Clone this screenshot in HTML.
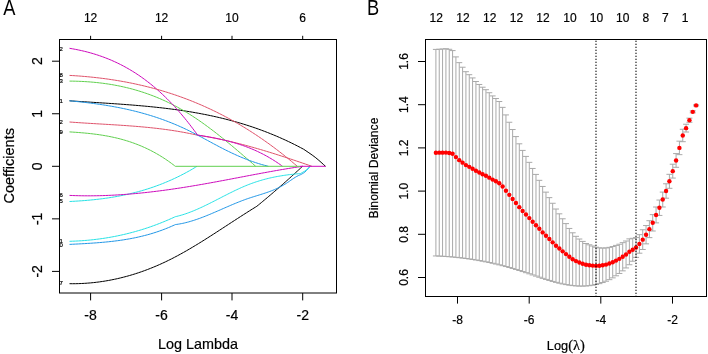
<!DOCTYPE html><html><head><meta charset="utf-8"><style>html,body{margin:0;padding:0;background:#fff;width:708px;height:354px;overflow:hidden}svg{display:block;will-change:transform}text{font-family:"Liberation Sans",sans-serif;fill:#000;stroke:#000;stroke-width:0.2px}</style></head><body>
<svg width="708" height="354" viewBox="0 0 708 354">
<rect width="708" height="354" fill="#fff"/>
<defs><clipPath id="ca"><rect x="59.5" y="39.5" width="277" height="253"/></clipPath><clipPath id="cb"><rect x="425.5" y="39.5" width="281" height="257"/></clipPath></defs>
<g clip-path="url(#ca)" fill="none" stroke-width="1" stroke-linejoin="round">
<path d="M69.5 100.8 L71 100.9 L72.5 101.01 L74 101.11 L75.5 101.21 L77 101.31 L78.5 101.41 L80 101.51 L81.5 101.61 L83 101.7 L84.5 101.8 L86 101.9 L87.5 101.99 L89 102.09 L90.5 102.18 L92 102.28 L93.5 102.37 L95 102.47 L96.5 102.56 L98 102.66 L99.5 102.76 L101 102.85 L102.5 102.95 L104 103.05 L105.5 103.14 L107 103.24 L108.5 103.34 L110 103.44 L111.5 103.54 L113 103.64 L114.5 103.74 L116 103.85 L117.5 103.95 L119 104.06 L120.5 104.16 L122 104.27 L123.5 104.38 L125 104.49 L126.5 104.61 L128 104.72 L129.5 104.84 L131 104.95 L132.5 105.07 L134 105.2 L135.5 105.32 L137 105.44 L138.5 105.57 L140 105.7 L141.5 105.83 L143 105.97 L144.5 106.1 L146 106.24 L147.5 106.39 L149 106.53 L150.5 106.68 L152 106.83 L153.5 106.98 L155 107.14 L156.5 107.3 L158 107.46 L159.5 107.62 L161 107.79 L162.5 107.96 L164 108.14 L165.5 108.32 L167 108.5 L168.5 108.68 L170 108.87 L171.5 109.07 L173 109.26 L174.5 109.46 L176 109.67 L177.5 109.88 L179 110.09 L180.5 110.31 L182 110.53 L183.5 110.75 L185 110.98 L186.5 111.22 L188 111.45 L189.5 111.7 L191 111.95 L192.5 112.2 L194 112.46 L195.5 112.72 L197 112.99 L198.5 113.26 L200 113.54 L201.5 113.82 L203 114.11 L204.5 114.4 L206 114.7 L207.5 115 L209 115.31 L210.5 115.63 L212 115.95 L213.5 116.28 L215 116.61 L216.5 116.95 L218 117.29 L219.5 117.64 L221 118 L222.5 118.36 L224 118.73 L225.5 119.11 L227 119.49 L228.5 119.88 L230 120.27 L231.5 120.67 L233 121.08 L234.5 121.5 L236 121.92 L237.5 122.35 L239 122.78 L240.5 123.23 L242 123.68 L243.5 124.13 L245 124.6 L246.5 125.07 L248 125.55 L249.5 126.04 L251 126.53 L252.5 127.03 L254 127.54 L255.5 128.06 L257 128.59 L258.5 129.12 L260 129.66 L261.5 130.21 L263 130.77 L264.5 131.34 L266 131.91 L267.5 132.49 L269 133.09 L270.5 133.69 L272 134.29 L273.5 134.91 L275 135.54 L276.5 136.17 L278 136.81 L279.5 137.47 L281 138.13 L282.5 138.8 L284 139.48 L285.5 140.17 L287 140.87 L288.5 141.57 L290 142.29 L291.5 143.02 L293 143.75 L294.5 144.5 L296 145.26 L297.5 146.02 L299 146.8 L300.5 147.58 L302 148.38 L303.5 149.18 L303.9 149.4 M303.9 149.4 C305.78 150.72 311.6 154.48 315.2 157.3 C318.8 160.12 323.78 164.8 325.5 166.3" stroke="#000000"/>
<path d="M69.5 122 L71 122.11 L72.5 122.22 L74 122.33 L75.5 122.44 L77 122.54 L78.5 122.64 L80 122.75 L81.5 122.84 L83 122.94 L84.5 123.04 L86 123.13 L87.5 123.23 L89 123.32 L90.5 123.41 L92 123.5 L93.5 123.59 L95 123.68 L96.5 123.77 L98 123.86 L99.5 123.95 L101 124.03 L102.5 124.12 L104 124.21 L105.5 124.3 L107 124.39 L108.5 124.48 L110 124.57 L111.5 124.66 L113 124.75 L114.5 124.84 L116 124.94 L117.5 125.03 L119 125.13 L120.5 125.23 L122 125.33 L123.5 125.43 L125 125.53 L126.5 125.64 L128 125.75 L129.5 125.86 L131 125.97 L132.5 126.08 L134 126.2 L135.5 126.32 L137 126.44 L138.5 126.57 L140 126.7 L141.5 126.83 L143 126.96 L144.5 127.1 L146 127.25 L147.5 127.39 L149 127.54 L150.5 127.7 L152 127.85 L153.5 128.02 L155 128.18 L156.5 128.35 L158 128.53 L159.5 128.71 L161 128.89 L162.5 129.08 L164 129.28 L165.5 129.48 L167 129.68 L168.5 129.89 L170 130.11 L171.5 130.33 L173 130.56 L174.5 130.79 L176 131.03 L177.5 131.28 L179 131.53 L180.5 131.79 L182 132.05 L183.5 132.32 L185 132.6 L186.5 132.89 L188 133.18 L189.5 133.48 L191 133.79 L192.5 134.1 L194 134.42 L195.5 134.75 L197 135.09 L197.5 135.2 M197.5 135.2 L199 135.42 L200.5 135.65 L202 135.88 L203.5 136.13 L205 136.38 L206.5 136.63 L208 136.89 L209.5 137.16 L211 137.44 L212.5 137.72 L214 138.01 L215.5 138.3 L217 138.6 L218.5 138.9 L220 139.21 L221.5 139.53 L223 139.85 L224.5 140.18 L226 140.52 L227.5 140.86 L229 141.2 L230.5 141.55 L232 141.91 L233.5 142.27 L235 142.63 L236.5 143 L238 143.38 L239.5 143.76 L241 144.14 L242.5 144.53 L244 144.92 L245.5 145.32 L247 145.73 L248.5 146.13 L250 146.55 L251.5 146.96 L253 147.38 L254.5 147.81 L256 148.23 L257.5 148.67 L259 149.1 L260.5 149.54 L262 149.98 L263.5 150.43 L265 150.88 L266.5 151.34 L268 151.79 L269.5 152.25 L271 152.72 L272.5 153.18 L274 153.65 L275.5 154.13 L277 154.6 L278.5 155.08 L280 155.56 L281.5 156.05 L283 156.53 L284.5 157.02 L286 157.51 L287.5 158.01 L289 158.5 L290.5 159 L292 159.5 L293.5 160 L295 160.51 L296.5 161.01 L298 161.52 L299.5 162.03 L301 162.54 L302.5 163.05 L304 163.57 L305.5 164.08 L307 164.6 L308.5 165.12 L310 165.64 L311.5 166.16 L311.9 166.3" stroke="#DF536B"/>
<path d="M69.5 81.1 L71 81.11 L72.5 81.14 L74 81.16 L75.5 81.2 L77 81.24 L78.5 81.29 L80 81.35 L81.5 81.42 L83 81.49 L84.5 81.57 L86 81.66 L87.5 81.76 L89 81.87 L90.5 81.98 L92 82.11 L93.5 82.24 L95 82.38 L96.5 82.53 L98 82.69 L99.5 82.86 L101 83.04 L102.5 83.23 L104 83.42 L105.5 83.63 L107 83.85 L108.5 84.07 L110 84.31 L111.5 84.56 L113 84.81 L114.5 85.08 L116 85.36 L117.5 85.65 L119 85.95 L120.5 86.26 L122 86.58 L123.5 86.91 L125 87.25 L126.5 87.61 L128 87.97 L129.5 88.35 L131 88.74 L132.5 89.14 L134 89.55 L135.5 89.98 L137 90.41 L138.5 90.86 L140 91.32 L141.5 91.8 L143 92.28 L144.5 92.78 L146 93.3 L147.5 93.82 L149 94.36 L150.5 94.91 L152 95.47 L153.5 96.05 L155 96.64 L156.5 97.25 L158 97.86 L159.5 98.5 L161 99.14 L162.5 99.8 L164 100.48 L165.5 101.17 L167 101.87 L168.5 102.59 L170 103.32 L171.5 104.07 L173 104.83 L174.5 105.6 L176 106.4 L177.5 107.2 L179 108.02 L180.5 108.86 L182 109.72 L183.5 110.59 L185 111.47 L186.5 112.37 L188 113.29 L189.5 114.22 L191 115.17 L192.5 116.13 L194 117.11 L195.5 118.11 L197 119.11 L198.5 120.14 L200 121.17 L201.5 122.22 L203 123.28 L204.5 124.36 L206 125.45 L207.5 126.54 L209 127.66 L210.5 128.78 L212 129.91 L213.5 131.06 L215 132.21 L216.5 133.38 L218 134.55 L219.5 135.74 L221 136.93 L222.5 138.13 L224 139.34 L225.5 140.56 L227 141.79 L228.5 143.02 L230 144.26 L231.5 145.51 L233 146.76 L234.5 148.02 L236 149.29 L237.5 150.56 L239 151.84 L240.5 153.12 L242 154.41 L243.5 155.7 L245 156.99 L246.5 158.29 L248 159.59 L249.5 160.9 L251 162.2 L252.5 163.51 L254 164.82 L255.5 166.14 L255.7 166.3" stroke="#61D04F"/>
<path d="M69.5 100.8 L71 100.94 L72.5 101.09 L74 101.24 L75.5 101.39 L77 101.55 L78.5 101.71 L80 101.87 L81.5 102.04 L83 102.2 L84.5 102.38 L86 102.55 L87.5 102.73 L89 102.92 L90.5 103.11 L92 103.3 L93.5 103.5 L95 103.7 L96.5 103.91 L98 104.12 L99.5 104.34 L101 104.56 L102.5 104.78 L104 105.02 L105.5 105.25 L107 105.5 L108.5 105.75 L110 106 L111.5 106.26 L113 106.53 L114.5 106.8 L116 107.08 L117.5 107.36 L119 107.65 L120.5 107.95 L122 108.26 L123.5 108.57 L125 108.89 L126.5 109.22 L128 109.55 L129.5 109.89 L131 110.24 L132.5 110.59 L134 110.96 L135.5 111.33 L137 111.71 L138.5 112.1 L140 112.49 L141.5 112.9 L143 113.31 L144.5 113.73 L146 114.16 L147.5 114.6 L149 115.05 L150.5 115.5 L152 115.97 L153.5 116.45 L155 116.93 L156.5 117.43 L158 117.93 L159.5 118.45 L161 118.97 L162.5 119.5 L164 120.05 L165.5 120.6 L167 121.17 L168.5 121.74 L170 122.33 L171.5 122.93 L173 123.54 L174.5 124.16 L176 124.79 L177.5 125.43 L179 126.08 L180.5 126.75 L182 127.42 L183.5 128.11 L185 128.81 L186.5 129.53 L188 130.25 L189.5 130.99 L191 131.74 L192.5 132.49 L194 133.26 L195.5 134.04 L197 134.82 L198.5 135.61 L200 136.41 L201.5 137.21 L203 138.01 L204.5 138.82 L206 139.63 L207.5 140.44 L209 141.25 L210.5 142.06 L212 142.87 L213.5 143.68 L215 144.48 L216.5 145.28 L218 146.08 L219.5 146.87 L221 147.65 L222.5 148.42 L224 149.19 L225.5 149.95 L227 150.69 L228.5 151.43 L230 152.15 L231.5 152.87 L233 153.57 L234.5 154.26 L236 154.94 L237.5 155.61 L239 156.27 L240.5 156.91 L242 157.54 L243.5 158.16 L245 158.76 L246.5 159.35 L248 159.93 L249.5 160.49 L251 161.04 L252.5 161.57 L254 162.09 L255.5 162.6 L257 163.09 L258.5 163.56 L260 164.02 L261.5 164.47 L263 164.89 L264.5 165.31 L266 165.7 L267.5 166.08 L268.4 166.3" stroke="#2297E6"/>
<path d="M69.5 201.5 L71 201.43 L72.5 201.35 L74 201.27 L75.5 201.18 L77 201.09 L78.5 200.99 L80 200.89 L81.5 200.79 L83 200.68 L84.5 200.56 L86 200.44 L87.5 200.31 L89 200.18 L90.5 200.04 L92 199.89 L93.5 199.74 L95 199.58 L96.5 199.41 L98 199.24 L99.5 199.06 L101 198.88 L102.5 198.69 L104 198.49 L105.5 198.28 L107 198.07 L108.5 197.84 L110 197.61 L111.5 197.38 L113 197.13 L114.5 196.88 L116 196.62 L117.5 196.34 L119 196.07 L120.5 195.78 L122 195.48 L123.5 195.18 L125 194.86 L126.5 194.54 L128 194.2 L129.5 193.86 L131 193.51 L132.5 193.14 L134 192.77 L135.5 192.39 L137 192 L138.5 191.59 L140 191.18 L141.5 190.76 L143 190.32 L144.5 189.87 L146 189.42 L147.5 188.95 L149 188.47 L150.5 187.98 L152 187.47 L153.5 186.96 L155 186.43 L156.5 185.89 L158 185.34 L159.5 184.78 L161 184.21 L162.5 183.62 L164 183.02 L165.5 182.4 L167 181.78 L168.5 181.14 L170 180.48 L171.5 179.82 L173 179.14 L174.5 178.44 L176 177.74 L177.5 177.01 L179 176.28 L180.5 175.53 L182 174.76 L183.5 173.99 L185 173.19 L186.5 172.38 L188 171.56 L189.5 170.72 L191 169.87 L192.5 169 L194 168.12 L195.5 167.22 L197 166.3" stroke="#28E2E5"/>
<path d="M69.5 48.3 L71 48.55 L72.5 48.81 L74 49.08 L75.5 49.37 L77 49.66 L78.5 49.97 L80 50.29 L81.5 50.62 L83 50.97 L84.5 51.32 L86 51.7 L87.5 52.08 L89 52.48 L90.5 52.89 L92 53.32 L93.5 53.76 L95 54.22 L96.5 54.69 L98 55.18 L99.5 55.69 L101 56.21 L102.5 56.74 L104 57.29 L105.5 57.86 L107 58.45 L108.5 59.05 L110 59.67 L111.5 60.31 L113 60.97 L114.5 61.64 L116 62.33 L117.5 63.04 L119 63.77 L120.5 64.52 L122 65.29 L123.5 66.08 L125 66.89 L126.5 67.72 L128 68.57 L129.5 69.44 L131 70.33 L132.5 71.25 L134 72.18 L135.5 73.14 L137 74.12 L138.5 75.12 L140 76.14 L141.5 77.19 L143 78.26 L144.5 79.35 L146 80.47 L147.5 81.61 L149 82.77 L150.5 83.96 L152 85.17 L153.5 86.41 L155 87.68 L156.5 88.96 L158 90.28 L159.5 91.62 L161 92.99 L162.5 94.38 L164 95.8 L165.5 97.25 L167 98.72 L168.5 100.22 L170 101.75 L171.5 103.31 L173 104.89 L174.5 106.51 L176 108.15 L177.5 109.82 L179 111.52 L180.5 113.25 L182 115.01 L183.5 116.8 L185 118.62 L186.5 120.47 L188 122.35 L189.5 124.27 L191 126.21 L192.5 128.19 L194 130.19 L195.5 132.23 L197 134.3 L197.5 135 M197.5 135 L199 135.24 L200.5 135.49 L202 135.74 L203.5 135.99 L205 136.25 L206.5 136.51 L208 136.78 L209.5 137.06 L211 137.33 L212.5 137.62 L214 137.91 L215.5 138.21 L217 138.52 L218.5 138.84 L220 139.16 L221.5 139.5 L223 139.84 L224.5 140.2 L226 140.56 L227.5 140.94 L229 141.32 L230.5 141.72 L232 142.13 L233.5 142.56 L235 143 L236.5 143.45 L238 143.91 L239.5 144.39 L241 144.89 L242.5 145.4 L244 145.92 L245.5 146.46 L247 147.02 L248.5 147.6 L250 148.19 L251.5 148.81 L253 149.44 L254.5 150.09 L256 150.76 L257.5 151.45 L259 152.16 L260.5 152.89 L262 153.64 L263.5 154.41 L265 155.21 L266.5 156.03 L268 156.87 L269.5 157.74 L271 158.63 L272.5 159.54 L274 160.48 L275.5 161.44 L277 162.43 L278.5 163.45 L280 164.49 L281.5 165.56 L282.5 166.3" stroke="#CD0BBC"/>
<path d="M69.5 283.7 L71 283.71 L72.5 283.71 L74 283.71 L75.5 283.69 L77 283.66 L78.5 283.62 L80 283.57 L81.5 283.51 L83 283.43 L84.5 283.35 L86 283.25 L87.5 283.14 L89 283.03 L90.5 282.9 L92 282.76 L93.5 282.6 L95 282.44 L96.5 282.26 L98 282.08 L99.5 281.88 L101 281.67 L102.5 281.45 L104 281.22 L105.5 280.98 L107 280.72 L108.5 280.46 L110 280.18 L111.5 279.89 L113 279.59 L114.5 279.28 L116 278.96 L117.5 278.63 L119 278.28 L120.5 277.92 L122 277.55 L123.5 277.17 L125 276.78 L126.5 276.38 L128 275.97 L129.5 275.54 L131 275.1 L132.5 274.65 L134 274.19 L135.5 273.72 L137 273.23 L138.5 272.74 L140 272.23 L141.5 271.71 L143 271.18 L144.5 270.64 L146 270.08 L147.5 269.52 L149 268.94 L150.5 268.35 L152 267.75 L153.5 267.14 L155 266.51 L156.5 265.88 L158 265.23 L159.5 264.57 L161 263.9 L162.5 263.21 L164 262.52 L165.5 261.81 L167 261.09 L168.5 260.36 L170 259.62 L171.5 258.86 L173 258.1 L174.5 257.32 L176 256.53 L177.5 255.73 L179 254.92 L180.5 254.1 L182 253.27 L183.5 252.43 L185 251.58 L186.5 250.73 L188 249.86 L189.5 248.98 L191 248.1 L192.5 247.21 L194 246.31 L195.5 245.41 L197 244.5 L198.5 243.58 L200 242.66 L201.5 241.73 L203 240.79 L204.5 239.85 L206 238.91 L207.5 237.96 L209 237.01 L210.5 236.05 L212 235.09 L213.5 234.13 L215 233.16 L216.5 232.19 L218 231.22 L219.5 230.24 L221 229.27 L222.5 228.29 L224 227.31 L225.5 226.34 L227 225.36 L228.5 224.38 L230 223.4 L231.5 222.42 L233 221.44 L234.5 220.47 L236 219.49 L237.5 218.52 L239 217.55 L240.5 216.58 L242 215.61 L243.5 214.65 L245 213.69 L246.5 212.74 L248 211.78 L249.5 210.84 L251 209.89 L252.5 208.96 L254 208.02 L255.5 207.1 L256.8 206.3 M256.8 206.3 L258.3 205.08 L259.8 203.85 L261.3 202.61 L262.8 201.37 L264.3 200.12 L265.8 198.87 L267.3 197.61 L268.8 196.34 L270.3 195.07 L271.8 193.79 L273.3 192.51 L274.8 191.22 L276.3 189.92 L277.8 188.62 L279.3 187.31 L280.8 185.99 L282.3 184.67 L283.8 183.35 L285.3 182.01 L286.8 180.68 L288.3 179.33 L289.8 177.98 L291.3 176.62 L292.8 175.26 L294.3 173.89 L295.8 172.52 L297.3 171.14 L298.8 169.75 L300.3 168.35 L301.8 166.96 L302.5 166.3" stroke="#000000"/>
<path d="M69.5 75.4 L71 75.49 L72.5 75.57 L74 75.67 L75.5 75.77 L77 75.87 L78.5 75.98 L80 76.09 L81.5 76.21 L83 76.33 L84.5 76.46 L86 76.59 L87.5 76.73 L89 76.87 L90.5 77.02 L92 77.17 L93.5 77.33 L95 77.49 L96.5 77.66 L98 77.83 L99.5 78.01 L101 78.19 L102.5 78.38 L104 78.57 L105.5 78.77 L107 78.98 L108.5 79.19 L110 79.41 L111.5 79.63 L113 79.86 L114.5 80.09 L116 80.33 L117.5 80.58 L119 80.83 L120.5 81.08 L122 81.35 L123.5 81.62 L125 81.89 L126.5 82.18 L128 82.46 L129.5 82.76 L131 83.06 L132.5 83.36 L134 83.68 L135.5 84 L137 84.32 L138.5 84.66 L140 85 L141.5 85.34 L143 85.69 L144.5 86.05 L146 86.42 L147.5 86.79 L149 87.17 L150.5 87.56 L152 87.95 L153.5 88.35 L155 88.76 L156.5 89.18 L158 89.6 L159.5 90.03 L161 90.46 L162.5 90.91 L164 91.36 L165.5 91.81 L167 92.28 L168.5 92.75 L170 93.23 L171.5 93.72 L173 94.22 L174.5 94.72 L176 95.23 L177.5 95.75 L179 96.28 L180.5 96.81 L182 97.35 L183.5 97.9 L185 98.46 L186.5 99.03 L188 99.6 L189.5 100.19 L191 100.78 L192.5 101.38 L194 101.98 L195.5 102.6 L197 103.22 L198.5 103.85 L200 104.49 L201.5 105.14 L203 105.8 L204.5 106.47 L206 107.14 L207.5 107.83 L209 108.52 L210.5 109.22 L212 109.93 L213.5 110.65 L215 111.37 L216.5 112.11 L218 112.86 L219.5 113.61 L221 114.37 L222.5 115.15 L224 115.93 L225.5 116.72 L227 117.52 L228.5 118.33 L230 119.15 L231.5 119.98 L233 120.82 L234.5 121.66 L236 122.52 L237.5 123.39 L239 124.26 L240.5 125.15 L242 126.05 L243.5 126.95 L245 127.87 L246.5 128.79 L248 129.73 L249.5 130.67 L251 131.63 L252.5 132.6 L254 133.57 L255.5 134.56 L257 135.55 L258.5 136.56 L260 137.58 L261.5 138.6 L263 139.64 L264.5 140.69 L266 141.75 L267.5 142.81 L269 143.89 L270.5 144.98 L272 146.08 L273.5 147.2 L275 148.32 L276.5 149.45 L278 150.6 L279.5 151.75 L281 152.92 L282.5 154.09 L284 155.28 L285.5 156.48 L287 157.69 L288.5 158.91 L290 160.14 L291.5 161.39 L293 162.64 L294.5 163.91 L296 165.19 L297.3 166.3" stroke="#DF536B"/>
<path d="M69.5 131.9 L71 131.99 L72.5 132.09 L74 132.19 L75.5 132.29 L77 132.4 L78.5 132.51 L80 132.63 L81.5 132.75 L83 132.88 L84.5 133.01 L86 133.16 L87.5 133.3 L89 133.46 L90.5 133.62 L92 133.79 L93.5 133.97 L95 134.16 L96.5 134.36 L98 134.56 L99.5 134.78 L101 135 L102.5 135.24 L104 135.49 L105.5 135.75 L107 136.01 L108.5 136.3 L110 136.59 L111.5 136.9 L113 137.21 L114.5 137.55 L116 137.89 L117.5 138.25 L119 138.62 L120.5 139.01 L122 139.41 L123.5 139.83 L125 140.27 L126.5 140.72 L128 141.18 L129.5 141.67 L131 142.17 L132.5 142.68 L134 143.22 L135.5 143.77 L137 144.35 L138.5 144.94 L140 145.55 L141.5 146.18 L143 146.83 L144.5 147.5 L146 148.19 L147.5 148.9 L149 149.63 L150.5 150.38 L152 151.16 L153.5 151.96 L155 152.78 L156.5 153.62 L158 154.49 L159.5 155.38 L161 156.3 L162.5 157.24 L164 158.2 L165.5 159.19 L167 160.21 L168.5 161.25 L170 162.32 L171.5 163.41 L173 164.53 L174.5 165.68 L175.3 166.3" stroke="#61D04F"/>
<path d="M69.5 244.4 L71 244.32 L72.5 244.25 L74 244.17 L75.5 244.1 L77 244.02 L78.5 243.94 L80 243.86 L81.5 243.78 L83 243.7 L84.5 243.61 L86 243.52 L87.5 243.43 L89 243.34 L90.5 243.25 L92 243.15 L93.5 243.04 L95 242.94 L96.5 242.83 L98 242.71 L99.5 242.59 L101 242.47 L102.5 242.34 L104 242.2 L105.5 242.06 L107 241.92 L108.5 241.76 L110 241.6 L111.5 241.44 L113 241.26 L114.5 241.08 L116 240.9 L117.5 240.7 L119 240.5 L120.5 240.29 L122 240.07 L123.5 239.84 L125 239.6 L126.5 239.35 L128 239.09 L129.5 238.83 L131 238.55 L132.5 238.26 L134 237.97 L135.5 237.66 L137 237.34 L138.5 237.01 L140 236.66 L141.5 236.31 L143 235.94 L144.5 235.56 L146 235.17 L147.5 234.77 L149 234.35 L150.5 233.92 L152 233.47 L153.5 233.01 L155 232.54 L156.5 232.05 L158 231.55 L159.5 231.03 L161 230.5 L162.5 229.95 L164 229.38 L165.5 228.8 L167 228.21 L168.5 227.59 L170 226.96 L171.5 226.32 L173 225.65 L174.5 224.97 L175.3 224.6 M175.3 224.6 L176.8 224.4 L178.3 224.18 L179.8 223.92 L181.3 223.64 L182.8 223.34 L184.3 223 L185.8 222.64 L187.3 222.26 L188.8 221.86 L190.3 221.43 L191.8 220.98 L193.3 220.52 L194.8 220.03 L196.3 219.53 L197.8 219.01 L199.3 218.47 L200.8 217.92 L202.3 217.35 L203.8 216.78 L205.3 216.19 L206.8 215.59 L208.3 214.98 L209.8 214.36 L211.3 213.73 L212.8 213.09 L214.3 212.45 L215.8 211.81 L217.3 211.15 L218.8 210.5 L220.3 209.85 L221.8 209.19 L223.3 208.53 L224.8 207.87 L226.3 207.22 L227.8 206.57 L229.3 205.92 L230.8 205.28 L232.3 204.64 L233.8 204.01 L235.3 203.38 L236.8 202.77 L238.3 202.16 L239.8 201.57 L241.3 200.98 L242.8 200.41 L244.3 199.85 L245.8 199.31 L247.3 198.78 L248.8 198.27 L250.3 197.77 L251.8 197.29 L253.3 196.81 L254.8 196.34 L256.3 195.88 L257.8 195.42 L259.3 194.95 L260.8 194.49 L262.3 194.01 L263.8 193.53 L265.3 193.03 L266.8 192.52 L268.3 192 L269.8 191.45 L271.3 190.88 L272.8 190.29 L274.3 189.66 L275.8 189.01 L277.3 188.32 L278.8 187.6 L280.3 186.84 L281.8 186.04 L283.3 185.19 L284.8 184.3 L286.3 183.35 L287.8 182.36 L289.3 181.33 L290.8 180.28 L292.3 179.25 L293.8 178.24 L295.3 177.29 L296.8 176.41 L298.3 175.63 L299.8 174.98 L300.3 174.8 M300.3 174.8 C301.07 174.33 303.3 173.42 304.9 172 C306.5 170.58 309.07 167.25 309.9 166.3" stroke="#2297E6"/>
<path d="M69.5 241.3 L71 241.26 L72.5 241.21 L74 241.15 L75.5 241.08 L77 241.01 L78.5 240.93 L80 240.84 L81.5 240.74 L83 240.63 L84.5 240.52 L86 240.4 L87.5 240.27 L89 240.13 L90.5 239.98 L92 239.83 L93.5 239.66 L95 239.49 L96.5 239.31 L98 239.12 L99.5 238.92 L101 238.72 L102.5 238.5 L104 238.28 L105.5 238.05 L107 237.81 L108.5 237.56 L110 237.3 L111.5 237.03 L113 236.75 L114.5 236.47 L116 236.17 L117.5 235.87 L119 235.56 L120.5 235.23 L122 234.9 L123.5 234.56 L125 234.21 L126.5 233.85 L128 233.48 L129.5 233.1 L131 232.71 L132.5 232.31 L134 231.91 L135.5 231.49 L137 231.06 L138.5 230.62 L140 230.18 L141.5 229.72 L143 229.25 L144.5 228.78 L146 228.29 L147.5 227.79 L149 227.29 L150.5 226.77 L152 226.24 L153.5 225.7 L155 225.16 L156.5 224.6 L158 224.03 L159.5 223.45 L161 222.86 L162.5 222.26 L164 221.65 L165.5 221.03 L167 220.39 L168.5 219.75 L170 219.1 L171.5 218.43 L173 217.76 L174.5 217.07 L175.3 216.7 M175.3 216.7 L176.8 216.36 L178.3 215.99 L179.8 215.59 L181.3 215.17 L182.8 214.72 L184.3 214.24 L185.8 213.74 L187.3 213.22 L188.8 212.67 L190.3 212.1 L191.8 211.52 L193.3 210.91 L194.8 210.29 L196.3 209.65 L197.8 208.99 L199.3 208.32 L200.8 207.64 L202.3 206.94 L203.8 206.23 L205.3 205.51 L206.8 204.78 L208.3 204.04 L209.8 203.29 L211.3 202.54 L212.8 201.78 L214.3 201.02 L215.8 200.25 L217.3 199.48 L218.8 198.71 L220.3 197.94 L221.8 197.16 L223.3 196.39 L224.8 195.62 L226.3 194.86 L227.8 194.1 L229.3 193.34 L230.8 192.6 L232.3 191.86 L233.8 191.12 L235.3 190.4 L236.8 189.69 L238.3 188.99 L239.8 188.3 L241.3 187.62 L242.8 186.96 L244.3 186.32 L245.8 185.69 L247.3 185.08 L248.8 184.49 L250.3 183.92 L251.8 183.36 L253.3 182.83 L254.8 182.31 L256.3 181.81 L257.8 181.33 L259.3 180.86 L260.8 180.41 L262.3 179.98 L263.8 179.56 L265.3 179.16 L266.8 178.78 L268.3 178.41 L269.8 178.05 L271.3 177.71 L272.8 177.39 L274.3 177.07 L275.8 176.78 L277.3 176.49 L278.8 176.22 L280.3 175.96 L281.8 175.72 L283.3 175.48 L284.8 175.26 L286.3 175.05 L287.8 174.85 L289.3 174.67 L290.8 174.49 L292.3 174.33 L293.8 174.17 L295.3 174.03 L296.8 173.89 L298.3 173.76 L299.8 173.65 L300.3 173.6 M300.3 173.6 C301.25 173.05 304.3 171.52 306 170.3 C307.7 169.08 309.75 166.97 310.5 166.3" stroke="#28E2E5"/>
<path d="M69.5 195.4 L71 195.46 L72.5 195.52 L74 195.58 L75.5 195.62 L77 195.67 L78.5 195.7 L80 195.74 L81.5 195.76 L83 195.79 L84.5 195.8 L86 195.81 L87.5 195.82 L89 195.82 L90.5 195.82 L92 195.81 L93.5 195.79 L95 195.77 L96.5 195.75 L98 195.72 L99.5 195.69 L101 195.65 L102.5 195.61 L104 195.56 L105.5 195.51 L107 195.45 L108.5 195.39 L110 195.32 L111.5 195.25 L113 195.18 L114.5 195.1 L116 195.01 L117.5 194.93 L119 194.83 L120.5 194.74 L122 194.64 L123.5 194.53 L125 194.42 L126.5 194.31 L128 194.19 L129.5 194.07 L131 193.95 L132.5 193.82 L134 193.69 L135.5 193.55 L137 193.41 L138.5 193.27 L140 193.12 L141.5 192.97 L143 192.81 L144.5 192.66 L146 192.49 L147.5 192.33 L149 192.16 L150.5 191.99 L152 191.81 L153.5 191.63 L155 191.45 L156.5 191.27 L158 191.08 L159.5 190.89 L161 190.69 L162.5 190.5 L164 190.3 L165.5 190.09 L167 189.89 L168.5 189.68 L170 189.47 L171.5 189.25 L173 189.03 L174.5 188.81 L176 188.59 L177.5 188.37 L179 188.14 L180.5 187.91 L182 187.68 L183.5 187.44 L185 187.2 L186.5 186.96 L188 186.72 L189.5 186.48 L191 186.23 L192.5 185.98 L194 185.73 L195.5 185.47 L197 185.22 L198.5 184.96 L200 184.7 L201.5 184.44 L203 184.18 L204.5 183.91 L206 183.65 L207.5 183.38 L209 183.11 L210.5 182.84 L212 182.56 L213.5 182.29 L215 182.01 L216.5 181.74 L218 181.46 L219.5 181.18 L221 180.9 L222.5 180.62 L224 180.34 L225.5 180.05 L227 179.77 L228.5 179.49 L230 179.2 L231.5 178.92 L233 178.63 L234.5 178.34 L236 178.06 L237.5 177.77 L239 177.49 L240.5 177.2 L242 176.91 L243.5 176.63 L245 176.34 L246.5 176.06 L248 175.77 L249.5 175.49 L251 175.2 L252.5 174.92 L254 174.63 L255.5 174.35 L257 174.07 L258.5 173.79 L260 173.51 L261.5 173.23 L263 172.95 L264.5 172.68 L266 172.4 L267.5 172.13 L269 171.85 L270.5 171.58 L272 171.31 L273.5 171.05 L275 170.78 L276.5 170.52 L278 170.25 L279.5 169.99 L281 169.74 L282.5 169.48 L284 169.22 L285.5 168.97 L287 168.72 L288.5 168.48 L290 168.23 L291.5 167.99 L293 167.75 L294.5 167.51 L296 167.28 L297.5 167.05 L299 166.82 L300.5 166.59 L302 166.37 L302.5 166.3" stroke="#CD0BBC"/>
<path d="M175.3 166.3 L300 166.3" stroke="#61D04F"/>
<path d="M300 166.3 L325.6 166.3" stroke="#CD0BBC"/>
<text x="62.8" y="50.6" font-size="6" text-anchor="end" stroke="none" fill="#222">12</text>
<text x="62.8" y="77.1" font-size="6" text-anchor="end" stroke="none" fill="#222">8</text>
<text x="62.8" y="83.1" font-size="6" text-anchor="end" stroke="none" fill="#222">3</text>
<text x="62.8" y="102.6" font-size="6" text-anchor="end" stroke="none" fill="#222">1</text>
<text x="62.8" y="124.1" font-size="6" text-anchor="end" stroke="none" fill="#222">2</text>
<text x="62.8" y="134.1" font-size="6" text-anchor="end" stroke="none" fill="#222">9</text>
<text x="62.8" y="197.1" font-size="6" text-anchor="end" stroke="none" fill="#222">6</text>
<text x="62.8" y="203.1" font-size="6" text-anchor="end" stroke="none" fill="#222">5</text>
<text x="62.8" y="243.1" font-size="6" text-anchor="end" stroke="none" fill="#222">11</text>
<text x="62.8" y="246.6" font-size="6" text-anchor="end" stroke="none" fill="#222">10</text>
<text x="62.8" y="285.4" font-size="6" text-anchor="end" stroke="none" fill="#222">7</text>
</g>
<rect x="59.5" y="39.5" width="277" height="253.5" fill="none" stroke="#000" stroke-width="1"/>
<path d="M52 61.2 H59.5 M52 113.75 H59.5 M52 166.3 H59.5 M52 218.85 H59.5 M52 271.4 H59.5 M90.6 293 V300.4 M90.6 35.8 V39.5 M161.6 293 V300.4 M161.6 35.8 V39.5 M232 293 V300.4 M232 35.8 V39.5 M302.7 293 V300.4 M302.7 35.8 V39.5 " stroke="#000" stroke-width="1" fill="none"/>
<text transform="translate(42.2 61.2) rotate(-90)" font-size="14" text-anchor="middle">2</text>
<text transform="translate(42.2 113.75) rotate(-90)" font-size="14" text-anchor="middle">1</text>
<text transform="translate(42.2 166.3) rotate(-90)" font-size="14" text-anchor="middle">0</text>
<text transform="translate(42.2 218.85) rotate(-90)" font-size="14" text-anchor="middle">-1</text>
<text transform="translate(42.2 271.4) rotate(-90)" font-size="14" text-anchor="middle">-2</text>
<text x="90.6" y="320.2" font-size="14" text-anchor="middle">-8</text>
<text x="161.6" y="320.2" font-size="14" text-anchor="middle">-6</text>
<text x="232" y="320.2" font-size="14" text-anchor="middle">-4</text>
<text x="302.7" y="320.2" font-size="14" text-anchor="middle">-2</text>
<text x="90.6" y="22.3" font-size="12" text-anchor="middle">12</text>
<text x="161.6" y="22.3" font-size="12" text-anchor="middle">12</text>
<text x="232" y="22.3" font-size="12" text-anchor="middle">10</text>
<text x="302.7" y="22.3" font-size="12" text-anchor="middle">6</text>
<text x="197.9" y="348.9" font-size="14.4" text-anchor="middle">Log Lambda</text>
<text transform="translate(13.8 165.8) rotate(-90)" font-size="14.5" text-anchor="middle">Coefficients</text>
<text transform="translate(3.2 14.8) scale(0.85 1)" font-size="21.5" style="stroke:none">A</text>
<g clip-path="url(#cb)">
<path d="M435.9 49.42 V255.96 M432.9 49.42 H438.9 M432.9 255.96 H438.9 M439.24 49.22 V256.1 M436.24 49.22 H442.24 M436.24 256.1 H442.24 M442.57 48.99 V256.27 M439.57 48.99 H445.57 M439.57 256.27 H445.57 M445.91 48.74 V256.48 M442.91 48.74 H448.91 M442.91 256.48 H448.91 M449.24 49.29 V256.73 M446.24 49.29 H452.24 M446.24 256.73 H452.24 M452.58 50.58 V257.01 M449.58 50.58 H455.58 M449.58 257.01 H455.58 M455.92 56.9 V257.33 M452.92 56.9 H458.92 M452.92 257.33 H458.92 M459.25 62.65 V257.68 M456.25 62.65 H462.25 M456.25 257.68 H462.25 M462.59 67.22 V258.07 M459.59 67.22 H465.59 M459.59 258.07 H465.59 M465.92 71.69 V258.5 M462.92 71.69 H468.92 M462.92 258.5 H468.92 M469.26 74.7 V258.96 M466.26 74.7 H472.26 M466.26 258.96 H472.26 M472.59 77.93 V259.46 M469.59 77.93 H475.59 M469.59 259.46 H475.59 M475.93 81.51 V260 M472.93 81.51 H478.93 M472.93 260 H478.93 M479.27 84.48 V260.58 M476.27 84.48 H482.27 M476.27 260.58 H482.27 M482.6 87.21 V261.19 M479.6 87.21 H485.6 M479.6 261.19 H485.6 M485.94 89.7 V261.84 M482.94 89.7 H488.94 M482.94 261.84 H488.94 M489.27 92.73 V262.53 M486.27 92.73 H492.27 M486.27 262.53 H492.27 M492.61 95.92 V263.26 M489.61 95.92 H495.61 M489.61 263.26 H495.61 M495.95 98.52 V264.03 M492.95 98.52 H498.95 M492.95 264.03 H498.95 M499.28 101.53 V264.83 M496.28 101.53 H502.28 M496.28 264.83 H502.28 M502.62 107.37 V265.68 M499.62 107.37 H505.62 M499.62 265.68 H505.62 M505.95 114.92 V266.56 M502.95 114.92 H508.95 M502.95 266.56 H508.95 M509.29 122.25 V267.48 M506.29 122.25 H512.29 M506.29 267.48 H512.29 M512.63 129.53 V268.44 M509.63 129.53 H515.63 M509.63 268.44 H515.63 M515.96 136.58 V269.44 M512.96 136.58 H518.96 M512.96 269.44 H518.96 M519.3 143.81 V270.49 M516.3 143.81 H522.3 M516.3 270.49 H522.3 M522.63 150.42 V271.57 M519.63 150.42 H525.63 M519.63 271.57 H525.63 M525.97 156.42 V272.68 M522.97 156.42 H528.97 M522.97 272.68 H528.97 M529.31 162.35 V273.81 M526.31 162.35 H532.31 M526.31 273.81 H532.31 M532.64 168.46 V274.95 M529.64 168.46 H535.64 M529.64 274.95 H535.64 M535.98 174.41 V276.09 M532.98 174.41 H538.98 M532.98 276.09 H538.98 M539.31 180.34 V277.23 M536.31 180.34 H542.31 M536.31 277.23 H542.31 M542.65 186.46 V278.34 M539.65 186.46 H545.65 M539.65 278.34 H545.65 M545.98 192.15 V279.42 M542.98 192.15 H548.98 M542.98 279.42 H548.98 M549.32 197.63 V280.45 M546.32 197.63 H552.32 M546.32 280.45 H552.32 M552.66 203.28 V281.43 M549.66 203.28 H555.66 M549.66 281.43 H555.66 M555.99 209.03 V282.35 M552.99 209.03 H558.99 M552.99 282.35 H558.99 M559.33 213.82 V283.2 M556.33 213.82 H562.33 M556.33 283.2 H562.33 M562.66 218.79 V283.95 M559.66 218.79 H565.66 M559.66 283.95 H565.66 M566 223.6 V284.62 M563 223.6 H569 M563 284.62 H569 M569.34 228.45 V285.17 M566.34 228.45 H572.34 M566.34 285.17 H572.34 M572.67 232.8 V285.61 M569.67 232.8 H575.67 M569.67 285.61 H575.67 M576.01 236.32 V285.92 M573.01 236.32 H579.01 M573.01 285.92 H579.01 M579.34 239.02 V286.1 M576.34 239.02 H582.34 M576.34 286.1 H582.34 M582.68 241.42 V286.12 M579.68 241.42 H585.68 M579.68 286.12 H585.68 M586.02 243.54 V285.98 M583.02 243.54 H589.02 M583.02 285.98 H589.02 M589.35 244.81 V285.68 M586.35 244.81 H592.35 M586.35 285.68 H592.35 M592.69 246.03 V285.19 M589.69 246.03 H595.69 M589.69 285.19 H595.69 M596.02 247.19 V284.51 M593.02 247.19 H599.02 M593.02 284.51 H599.02 M599.36 247.88 V283.63 M596.36 247.88 H602.36 M596.36 283.63 H602.36 M602.69 248.05 V282.54 M599.69 248.05 H605.69 M599.69 282.54 H605.69 M606.03 247.93 V281.22 M603.03 247.93 H609.03 M603.03 281.22 H609.03 M609.37 247.36 V279.66 M606.37 247.36 H612.37 M606.37 279.66 H612.37 M612.7 246.53 V277.86 M609.7 246.53 H615.7 M609.7 277.86 H615.7 M616.04 245.4 V275.8 M613.04 245.4 H619.04 M613.04 275.8 H619.04 M619.37 244.23 V273.46 M616.37 244.23 H622.37 M616.37 273.46 H622.37 M622.71 242.65 V270.85 M619.71 242.65 H625.71 M619.71 270.85 H625.71 M626.05 241.01 V267.95 M623.05 241.01 H629.05 M623.05 267.95 H629.05 M629.38 238.87 V264.74 M626.38 238.87 H632.38 M626.38 264.74 H632.38 M632.72 238.31 V261.22 M629.72 238.31 H635.72 M629.72 261.22 H635.72 M636.05 237.57 V257.37 M633.05 237.57 H639.05 M633.05 257.37 H639.05 M639.39 234.65 V253.19 M636.39 234.65 H642.39 M636.39 253.19 H642.39 M642.73 229.76 V249.49 M639.73 229.76 H645.73 M639.73 249.49 H645.73 M646.06 225.56 V243.85 M643.06 225.56 H649.06 M643.06 243.85 H649.06 M649.4 220.7 V237.64 M646.4 220.7 H652.4 M646.4 237.64 H652.4 M652.73 214.63 V231.01 M649.73 214.63 H655.73 M649.73 231.01 H655.73 M656.07 207.01 V222.86 M653.07 207.01 H659.07 M653.07 222.86 H659.07 M659.41 200.06 V215.43 M656.41 200.06 H662.41 M656.41 215.43 H662.41 M662.74 192.09 V206.99 M659.74 192.09 H665.74 M659.74 206.99 H665.74 M666.08 183.77 V198.19 M663.08 183.77 H669.08 M663.08 198.19 H669.08 M669.41 174.32 V188.3 M666.41 174.32 H672.41 M666.41 188.3 H672.41 M672.75 164.22 V178.07 M669.75 164.22 H675.75 M669.75 178.07 H675.75 M676.08 153.59 V167.31 M673.08 153.59 H679.08 M673.08 167.31 H679.08 M679.42 141.16 V154.66 M676.42 141.16 H682.42 M676.42 154.66 H682.42 M682.76 129.27 V141.7 M679.76 129.27 H685.76 M679.76 141.7 H685.76 M686.09 124.24 V132.02 M683.09 124.24 H689.09 M683.09 132.02 H689.09 M689.43 118.15 V122.26 M686.43 118.15 H692.43 M686.43 122.26 H692.43 M692.76 110.86 V112.82 M689.76 110.86 H695.76 M689.76 112.82 H695.76 M696.1 104.8 V106 M693.1 104.8 H699.1 M693.1 106 H699.1 " stroke="#A9A9A9" stroke-width="1" fill="none"/>
<circle cx="435.9" cy="152.69" r="2.2" fill="#FF0000"/>
<circle cx="439.24" cy="152.66" r="2.2" fill="#FF0000"/>
<circle cx="442.57" cy="152.63" r="2.2" fill="#FF0000"/>
<circle cx="445.91" cy="152.61" r="2.2" fill="#FF0000"/>
<circle cx="449.24" cy="153.01" r="2.2" fill="#FF0000"/>
<circle cx="452.58" cy="153.8" r="2.2" fill="#FF0000"/>
<circle cx="455.92" cy="157.12" r="2.2" fill="#FF0000"/>
<circle cx="459.25" cy="160.16" r="2.2" fill="#FF0000"/>
<circle cx="462.59" cy="162.64" r="2.2" fill="#FF0000"/>
<circle cx="465.92" cy="165.1" r="2.2" fill="#FF0000"/>
<circle cx="469.26" cy="166.83" r="2.2" fill="#FF0000"/>
<circle cx="472.59" cy="168.7" r="2.2" fill="#FF0000"/>
<circle cx="475.93" cy="170.76" r="2.2" fill="#FF0000"/>
<circle cx="479.27" cy="172.53" r="2.2" fill="#FF0000"/>
<circle cx="482.6" cy="174.2" r="2.2" fill="#FF0000"/>
<circle cx="485.94" cy="175.77" r="2.2" fill="#FF0000"/>
<circle cx="489.27" cy="177.63" r="2.2" fill="#FF0000"/>
<circle cx="492.61" cy="179.59" r="2.2" fill="#FF0000"/>
<circle cx="495.95" cy="181.27" r="2.2" fill="#FF0000"/>
<circle cx="499.28" cy="183.18" r="2.2" fill="#FF0000"/>
<circle cx="502.62" cy="186.52" r="2.2" fill="#FF0000"/>
<circle cx="505.95" cy="190.74" r="2.2" fill="#FF0000"/>
<circle cx="509.29" cy="194.86" r="2.2" fill="#FF0000"/>
<circle cx="512.63" cy="198.98" r="2.2" fill="#FF0000"/>
<circle cx="515.96" cy="203.01" r="2.2" fill="#FF0000"/>
<circle cx="519.3" cy="207.15" r="2.2" fill="#FF0000"/>
<circle cx="522.63" cy="210.99" r="2.2" fill="#FF0000"/>
<circle cx="525.97" cy="214.55" r="2.2" fill="#FF0000"/>
<circle cx="529.31" cy="218.08" r="2.2" fill="#FF0000"/>
<circle cx="532.64" cy="221.71" r="2.2" fill="#FF0000"/>
<circle cx="535.98" cy="225.25" r="2.2" fill="#FF0000"/>
<circle cx="539.31" cy="228.78" r="2.2" fill="#FF0000"/>
<circle cx="542.65" cy="232.4" r="2.2" fill="#FF0000"/>
<circle cx="545.98" cy="235.78" r="2.2" fill="#FF0000"/>
<circle cx="549.32" cy="239.04" r="2.2" fill="#FF0000"/>
<circle cx="552.66" cy="242.36" r="2.2" fill="#FF0000"/>
<circle cx="555.99" cy="245.69" r="2.2" fill="#FF0000"/>
<circle cx="559.33" cy="248.51" r="2.2" fill="#FF0000"/>
<circle cx="562.66" cy="251.37" r="2.2" fill="#FF0000"/>
<circle cx="566" cy="254.11" r="2.2" fill="#FF0000"/>
<circle cx="569.34" cy="256.81" r="2.2" fill="#FF0000"/>
<circle cx="572.67" cy="259.2" r="2.2" fill="#FF0000"/>
<circle cx="576.01" cy="261.12" r="2.2" fill="#FF0000"/>
<circle cx="579.34" cy="262.56" r="2.2" fill="#FF0000"/>
<circle cx="582.68" cy="263.77" r="2.2" fill="#FF0000"/>
<circle cx="586.02" cy="264.76" r="2.2" fill="#FF0000"/>
<circle cx="589.35" cy="265.25" r="2.2" fill="#FF0000"/>
<circle cx="592.69" cy="265.61" r="2.2" fill="#FF0000"/>
<circle cx="596.02" cy="265.85" r="2.2" fill="#FF0000"/>
<circle cx="599.36" cy="265.76" r="2.2" fill="#FF0000"/>
<circle cx="602.69" cy="265.3" r="2.2" fill="#FF0000"/>
<circle cx="606.03" cy="264.58" r="2.2" fill="#FF0000"/>
<circle cx="609.37" cy="263.51" r="2.2" fill="#FF0000"/>
<circle cx="612.7" cy="262.19" r="2.2" fill="#FF0000"/>
<circle cx="616.04" cy="260.6" r="2.2" fill="#FF0000"/>
<circle cx="619.37" cy="258.85" r="2.2" fill="#FF0000"/>
<circle cx="622.71" cy="256.75" r="2.2" fill="#FF0000"/>
<circle cx="626.05" cy="254.48" r="2.2" fill="#FF0000"/>
<circle cx="629.38" cy="251.81" r="2.2" fill="#FF0000"/>
<circle cx="632.72" cy="249.76" r="2.2" fill="#FF0000"/>
<circle cx="636.05" cy="247.47" r="2.2" fill="#FF0000"/>
<circle cx="639.39" cy="243.92" r="2.2" fill="#FF0000"/>
<circle cx="642.73" cy="239.63" r="2.2" fill="#FF0000"/>
<circle cx="646.06" cy="234.71" r="2.2" fill="#FF0000"/>
<circle cx="649.4" cy="229.17" r="2.2" fill="#FF0000"/>
<circle cx="652.73" cy="222.82" r="2.2" fill="#FF0000"/>
<circle cx="656.07" cy="214.94" r="2.2" fill="#FF0000"/>
<circle cx="659.41" cy="207.74" r="2.2" fill="#FF0000"/>
<circle cx="662.74" cy="199.54" r="2.2" fill="#FF0000"/>
<circle cx="666.08" cy="190.98" r="2.2" fill="#FF0000"/>
<circle cx="669.41" cy="181.31" r="2.2" fill="#FF0000"/>
<circle cx="672.75" cy="171.14" r="2.2" fill="#FF0000"/>
<circle cx="676.08" cy="160.45" r="2.2" fill="#FF0000"/>
<circle cx="679.42" cy="147.91" r="2.2" fill="#FF0000"/>
<circle cx="682.76" cy="135.49" r="2.2" fill="#FF0000"/>
<circle cx="686.09" cy="128.13" r="2.2" fill="#FF0000"/>
<circle cx="689.43" cy="120.2" r="2.2" fill="#FF0000"/>
<circle cx="692.76" cy="111.84" r="2.2" fill="#FF0000"/>
<circle cx="696.1" cy="105.4" r="2.2" fill="#FF0000"/>
<path d="M596 39.5 V296.5 M636 39.5 V296.5" stroke="#000" stroke-width="1.4" stroke-dasharray="1 2" stroke-dashoffset="1.65" fill="none"/>
</g>
<rect x="425.5" y="39.5" width="281" height="257" fill="none" stroke="#000" stroke-width="1"/>
<path d="M418 61.5 H425.5 M418 104.7 H425.5 M418 147.9 H425.5 M418 191.1 H425.5 M418 234.3 H425.5 M418 277.5 H425.5 M457.5 296.5 V303.6 M529.2 296.5 V303.6 M600.8 296.5 V303.6 M672.5 296.5 V303.6 " stroke="#000" stroke-width="1" fill="none"/>
<text transform="translate(408.4 61.5) rotate(-90)" font-size="12" text-anchor="middle">1.6</text>
<text transform="translate(408.4 104.7) rotate(-90)" font-size="12" text-anchor="middle">1.4</text>
<text transform="translate(408.4 147.9) rotate(-90)" font-size="12" text-anchor="middle">1.2</text>
<text transform="translate(408.4 191.1) rotate(-90)" font-size="12" text-anchor="middle">1.0</text>
<text transform="translate(408.4 234.3) rotate(-90)" font-size="12" text-anchor="middle">0.8</text>
<text transform="translate(408.4 277.5) rotate(-90)" font-size="12" text-anchor="middle">0.6</text>
<text x="457.5" y="323.6" font-size="12" text-anchor="middle">-8</text>
<text x="529.2" y="323.6" font-size="12" text-anchor="middle">-6</text>
<text x="600.8" y="323.6" font-size="12" text-anchor="middle">-4</text>
<text x="672.5" y="323.6" font-size="12" text-anchor="middle">-2</text>
<text x="436.3" y="22.4" font-size="12" text-anchor="middle">12</text>
<text x="463" y="22.4" font-size="12" text-anchor="middle">12</text>
<text x="489.7" y="22.4" font-size="12" text-anchor="middle">12</text>
<text x="516.4" y="22.4" font-size="12" text-anchor="middle">12</text>
<text x="542.9" y="22.4" font-size="12" text-anchor="middle">12</text>
<text x="569.9" y="22.4" font-size="12" text-anchor="middle">10</text>
<text x="596.4" y="22.4" font-size="12" text-anchor="middle">10</text>
<text x="622.8" y="22.4" font-size="12" text-anchor="middle">10</text>
<text x="645.8" y="22.4" font-size="12" text-anchor="middle">8</text>
<text x="665.4" y="22.4" font-size="12" text-anchor="middle">7</text>
<text x="685.2" y="22.4" font-size="12" text-anchor="middle">1</text>
<text transform="translate(377.9 168) rotate(-90)" font-size="12.2" text-anchor="middle">Binomial Deviance</text>
<text x="565.8" y="350" font-size="12.8" text-anchor="middle">Log<tspan font-family="Liberation Serif" font-size="14.5">(&#955;)</tspan></text>
<text transform="translate(367.0 14.8) scale(0.85 1)" font-size="21.5" style="stroke:none">B</text>
</svg></body></html>
